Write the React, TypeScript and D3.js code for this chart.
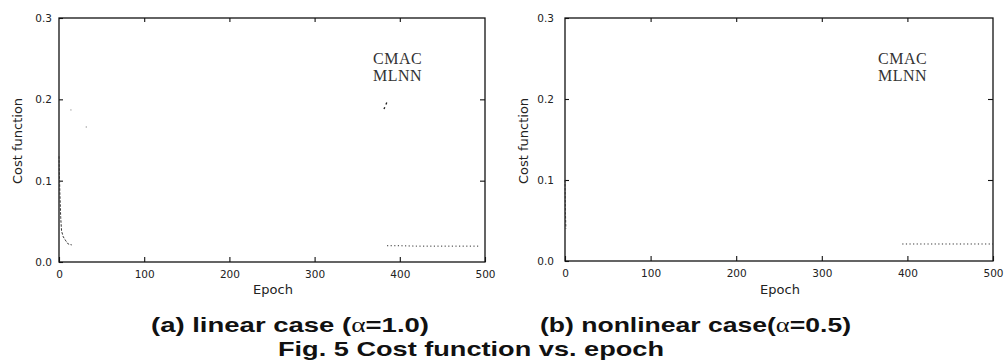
import * as d3 from 'd3';
import React, { useRef, useEffect } from 'react';

// tick values and labels
const xTicks = [0, 100, 200, 300, 400, 500];
const yTicks = [0, 0.1, 0.2, 0.3];
const yTickLabels = ['0.0', '0.1', '0.2', '0.3'];

// (a) linear case - fragments visible in the scan
const linHeadEpoch = [0, 1, 2, 3, 5, 8, 11, 15];
const linHeadCost = [0.13, 0.085, 0.055, 0.038, 0.031, 0.026, 0.022, 0.021];
const linTailEpoch = [385, 400, 420, 440, 460, 480, 492];
const linTailCost = [0.02, 0.02, 0.0195, 0.0195, 0.0195, 0.0195, 0.0195];
const linSpeckEpoch = [14, 32];
const linSpeckCost = [0.187, 0.166];

// (b) nonlinear case
const nonHeadEpoch = [0, 0.5, 1];
const nonHeadCost = [0.1, 0.06, 0.04];
const nonTailEpoch = [394, 420, 440, 460, 480, 500];
const nonTailCost = [0.021, 0.021, 0.021, 0.021, 0.021, 0.021];

const legendNames = ['CMAC', 'MLNN'];

const width = 1006;
const height = 362;

type Panel = {
  left: number; right: number; top: number; bottom: number;
  yPad: number; labelX: number; legendX: number;
  head: [number[], number[]]; tail: [number[], number[]];
  specks: [number[], number[]] | null; legendMark: boolean;
};

const panels: Panel[] = [
  { left: 59, right: 485, top: 18, bottom: 262, yPad: 7, labelX: 17, legendX: 373,
    head: [linHeadEpoch, linHeadCost], tail: [linTailEpoch, linTailCost],
    specks: [linSpeckEpoch, linSpeckCost], legendMark: true },
  { left: 565, right: 993, top: 18, bottom: 261, yPad: 11, labelX: 523, legendX: 878,
    head: [nonHeadEpoch, nonHeadCost], tail: [nonTailEpoch, nonTailCost],
    specks: null, legendMark: false },
];

export default function App() {
  const svgRef = useRef<SVGSVGElement>(null);

  useEffect(() => {
    if (!svgRef.current) return;
    const svg = d3.select(svgRef.current);
    svg.selectAll('*').remove();
    svg.append('rect').attr('width', width).attr('height', height).attr('fill', '#fff');

    panels.forEach((p) => {
      const g = svg.append('g');
      const x = d3.scaleLinear().domain([0, 500]).range([p.left, p.right]);
      const y = d3.scaleLinear().domain([0, 0.3]).range([p.bottom, p.top]);

      // frame
      g.append('rect')
        .attr('x', p.left).attr('y', p.top)
        .attr('width', p.right - p.left).attr('height', p.bottom - p.top)
        .attr('fill', 'none').attr('stroke', '#111').attr('stroke-width', 1.3);

      const styleAxis = (sel: any) => {
        sel.select('.domain').remove();
        sel.selectAll('line').attr('stroke', '#111').attr('stroke-width', 1.1);
        sel.selectAll('text')
          .attr('fill', '#222')
          .attr('font-family', 'DejaVu Sans, sans-serif')
          .attr('font-size', 10.5);
      };

      g.append('g')
        .attr('transform', `translate(0,${p.bottom})`)
        .call(d3.axisBottom(x).tickValues(xTicks).tickSizeInner(-5).tickSizeOuter(0).tickPadding(9))
        .call(styleAxis);
      g.append('g')
        .attr('transform', `translate(0,${p.top})`)
        .call(d3.axisTop(x).tickValues(xTicks.slice(1, -1)).tickSizeInner(-4).tickSizeOuter(0).tickFormat(() => ''))
        .call(styleAxis);
      g.append('g')
        .attr('transform', `translate(${p.left},0)`)
        .call(d3.axisLeft(y).tickValues(yTicks).tickSizeInner(-4).tickSizeOuter(0).tickPadding(p.yPad)
          .tickFormat((_, i) => yTickLabels[i]))
        .call(styleAxis);
      g.append('g')
        .attr('transform', `translate(${p.right},0)`)
        .call(d3.axisRight(y).tickValues(yTicks.slice(1, -1)).tickSizeInner(-5).tickSizeOuter(0).tickFormat(() => ''))
        .call(styleAxis);

      // axis titles
      g.append('text')
        .attr('x', (p.left + p.right) / 2 + 1).attr('y', 294)
        .attr('text-anchor', 'middle')
        .attr('font-family', 'DejaVu Sans, sans-serif').attr('font-size', 13)
        .attr('fill', '#222')
        .text('Epoch');
      g.append('text')
        .attr('transform', `translate(${p.labelX + 5},141) rotate(-90)`)
        .attr('text-anchor', 'middle')
        .attr('font-family', 'DejaVu Sans, sans-serif').attr('font-size', 13)
        .attr('fill', '#222')
        .text('Cost function');

      const drawSeries = (ep: number[], cost: number[], dash: string, sw: number) => {
        const line = d3.line<number>()
          .x((d) => x(d))
          .y((_, i) => y(cost[i]));
        g.append('path')
          .attr('d', line(ep))
          .attr('fill', 'none')
          .attr('stroke', '#333')
          .attr('stroke-width', sw)
          .attr('stroke-dasharray', dash);
      };
      drawSeries(p.head[0], p.head[1], '2.5,1.5', 1);
      drawSeries(p.tail[0], p.tail[1], '1.2,2.4', 1);

      if (p.specks) {
        const [se, sc] = p.specks;
        g.selectAll('.speck').data(se).enter().append('circle')
          .attr('cx', (d) => x(d))
          .attr('cy', (_, i) => y(sc[i]))
          .attr('r', 0.7)
          .attr('fill', '#999');
      }

      // legend
      legendNames.forEach((name, i) => {
        g.append('text')
          .attr('x', p.legendX).attr('y', 64 + i * 17)
          .attr('font-family', 'Liberation Serif, Times New Roman, serif')
          .attr('font-size', 16)
          .attr('fill', '#333')
          .attr('letter-spacing', 0.5)
          .text(name);
      });
      if (p.legendMark) {
        g.append('path')
          .attr('d', `M${p.legendX + 11},109 L${p.legendX + 14},102`)
          .attr('stroke', '#222').attr('stroke-width', 1.4)
          .attr('stroke-dasharray', '2,3');
      }
    });

    // captions
    const cap = (xPos: number, yPos: number, len: number, pre: string, post: string | null) => {
      const t = svg.append('text')
        .attr('x', xPos).attr('y', yPos)
        .attr('textLength', len)
        .attr('lengthAdjust', 'spacingAndGlyphs')
        .attr('font-family', 'Liberation Sans, Arial, sans-serif')
        .attr('font-weight', 'bold')
        .attr('font-size', 21)
        .attr('fill', '#111');
      t.append('tspan').text(pre);
      if (post !== null) {
        t.append('tspan').attr('font-family', 'Liberation Serif, serif').attr('font-weight', 'normal').text('α');
        t.append('tspan').text(post);
      }
    };
    cap(151, 332, 278, '(a) linear case (', '=1.0)');
    cap(540, 332, 311, '(b) nonlinear case(', '=0.5)');
    cap(278, 356, 386, 'Fig. 5 Cost function vs. epoch', null);
  }, []);

  return (
    <svg ref={svgRef} width={width} height={height}
      style={{ position: 'absolute', left: 0, top: 0, background: '#fff' }} />
  );
}
